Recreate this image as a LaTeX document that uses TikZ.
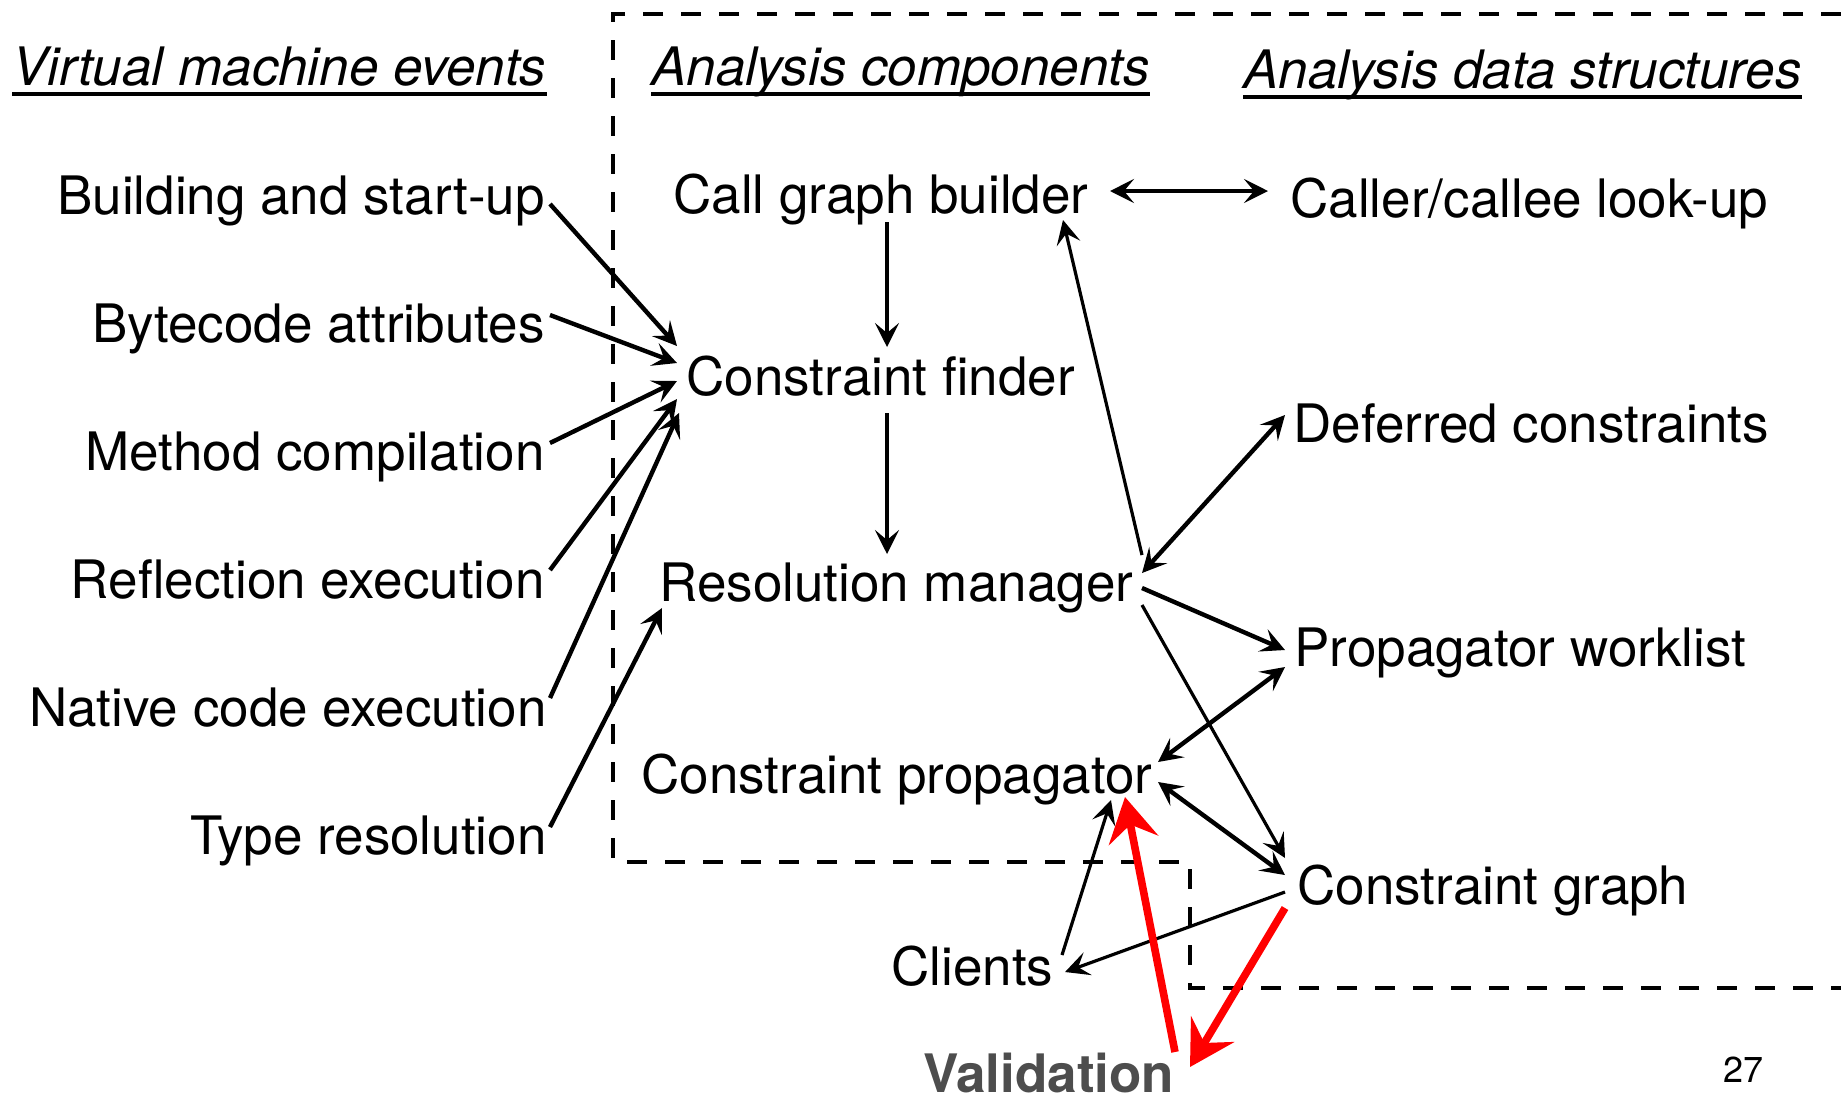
\documentclass[tikz,border=0pt]{standalone}
\usepackage{fontspec}
\setmainfont{TeX Gyre Heros}
\usetikzlibrary{arrows.meta}
\definecolor{valgray}{RGB}{77,77,77}
\definecolor{valred}{RGB}{255,0,0}

\begin{document}
\begin{tikzpicture}[x=0.5pt,y=-0.5pt,
  lbl/.style={inner sep=0pt, font=\fontsize{26.5}{30}\selectfont},
  heading/.style={inner sep=0pt, font=\fontsize{26.5}{30}\selectfont\itshape},
  uline/.style={line width=1.9pt},
  tipblack/.tip={Stealth[length=12pt,width=12pt,inset=5pt]},
  link/.style={line width=2.2pt, -tipblack},
  thinlink/.style={line width=1.6pt, -tipblack},
  duplex/.style={line width=2.2pt, tipblack-tipblack},
  check/.style={draw=valred, line width=3.8pt, -{Stealth[length=22pt,width=25pt,inset=8pt]}},
  region/.style={line width=2.4pt, dash pattern=on 10pt off 9pt}]

\useasboundingbox (0,0) rectangle (1841,1100);

% dashed boundary of the analysis
\draw[region] (1841,14) -- (613,14) -- (613,862) -- (1190,862) -- (1190,988) -- (1841,988);

% column headings
\node[heading, anchor=base west] (h1) at (12,85) {Virtual machine events};
\node[heading, anchor=base west] (h2) at (651,85) {Analysis components};
\node[heading, anchor=base west] (h3) at (1243,88) {Analysis data structures};
\foreach \h in {h1,h2,h3}
  \draw[uline] ([yshift=-4.5pt]\h.base west) -- ([yshift=-4.5pt]\h.base east);

% virtual machine events
\node[lbl, anchor=base east] (bld) at (545,214) {Building and start-up};
\node[lbl, anchor=base east] (byt) at (545,342) {Bytecode attributes};
\node[lbl, anchor=base east] (mth) at (545,470) {Method compilation};
\node[lbl, anchor=base east] (rfl) at (545,598) {Reflection execution};
\node[lbl, anchor=base east] (ntv) at (547,726) {Native code execution};
\node[lbl, anchor=base east] (typ) at (547,854) {Type resolution};

% analysis components
\node[lbl, anchor=base west] (cgb) at (673,213) {Call graph builder};
\node[lbl, anchor=base west] (cf)  at (686,395) {Constraint finder};
\node[lbl, anchor=base west] (rm)  at (659,601) {Resolution manager};
\node[lbl, anchor=base west] (cp)  at (641,793) {Constraint propagator};
\node[lbl, anchor=base west] (cl)  at (891,985) {Clients};
\node[lbl, anchor=base west, font=\fontsize{26.5}{30}\selectfont\bfseries, text=valgray] (val) at (923,1092) {Validation};

% analysis data structures
\node[lbl, anchor=base west] (clu) at (1290,217) {Caller/callee look-up};
\node[lbl, anchor=base west] (dc)  at (1293,442) {Deferred constraints};
\node[lbl, anchor=base west] (pw)  at (1294,666) {Propagator worklist};
\node[lbl, anchor=base west] (cg)  at (1297,904) {Constraint graph};

\node[inner sep=0pt, anchor=base west, font=\fontsize{18}{20}\selectfont] (pg) at (1723,1082) {27};

% events feeding the constraint finder and resolution manager
\draw[link] ([shift={(5,-10)}]bld.base east) -- ([shift={(-9,-49)}]cf.base west);
\draw[link] ([shift={(5,-27)}]byt.base east) -- ([shift={(-9,-32)}]cf.base west);
\draw[link] ([shift={(5,-27)}]mth.base east) -- ([shift={(-9,-14)}]cf.base west);
\draw[link] ([shift={(5,-28)}]rfl.base east) -- ([shift={(-9,4)}]cf.base west);
\draw[link] ([shift={(3,-28)}]ntv.base east) -- ([shift={(-7,18)}]cf.base west);
\draw[link] ([shift={(3,-27)}]typ.base east) -- ([shift={(3,7)}]rm.base west);

% component flow
\draw[thinlink] ([shift={(214,9)}]cgb.base west) -- ([shift={(201,-48)}]cf.base west);
\draw[thinlink] ([shift={(201,18)}]cf.base west) -- ([shift={(228,-47)}]rm.base west);
\draw[duplex] ([shift={(437,-22)}]cgb.base west) -- ([shift={(-22,-26)}]clu.base west);
\draw[thinlink] ([shift={(483,-46)}]rm.base west) -- ([shift={(390,7)}]cgb.base west);
\draw[duplex] ([shift={(-8,-27)}]dc.base west) -- ([shift={(483,-28)}]rm.base west);
\draw[link] ([shift={(483,-13)}]rm.base west) -- ([shift={(-9,-16)}]pw.base west);
\draw[thinlink] ([shift={(483,4)}]rm.base west) -- ([shift={(-12,-46)}]cg.base west);
\draw[duplex] ([shift={(-9,1)}]pw.base west) -- ([shift={(517,-31)}]cp.base west);
\draw[duplex] ([shift={(517,-11)}]cp.base west) -- ([shift={(-12,-29)}]cg.base west);
\draw[thinlink] ([shift={(-12,-12)}]cg.base west) -- ([shift={(174,-13)}]cl.base west);
\draw[thinlink] ([shift={(171,-30)}]cl.base west) -- ([shift={(470,7)}]cp.base west);

% validation loop
\draw[check] ([shift={(252,-40)}]val.base west) -- ([shift={(484,4)}]cp.base west);
\draw[check] ([shift={(-12,4)}]cg.base west) -- ([shift={(267,-25)}]val.base west);
\end{tikzpicture}
\end{document}
